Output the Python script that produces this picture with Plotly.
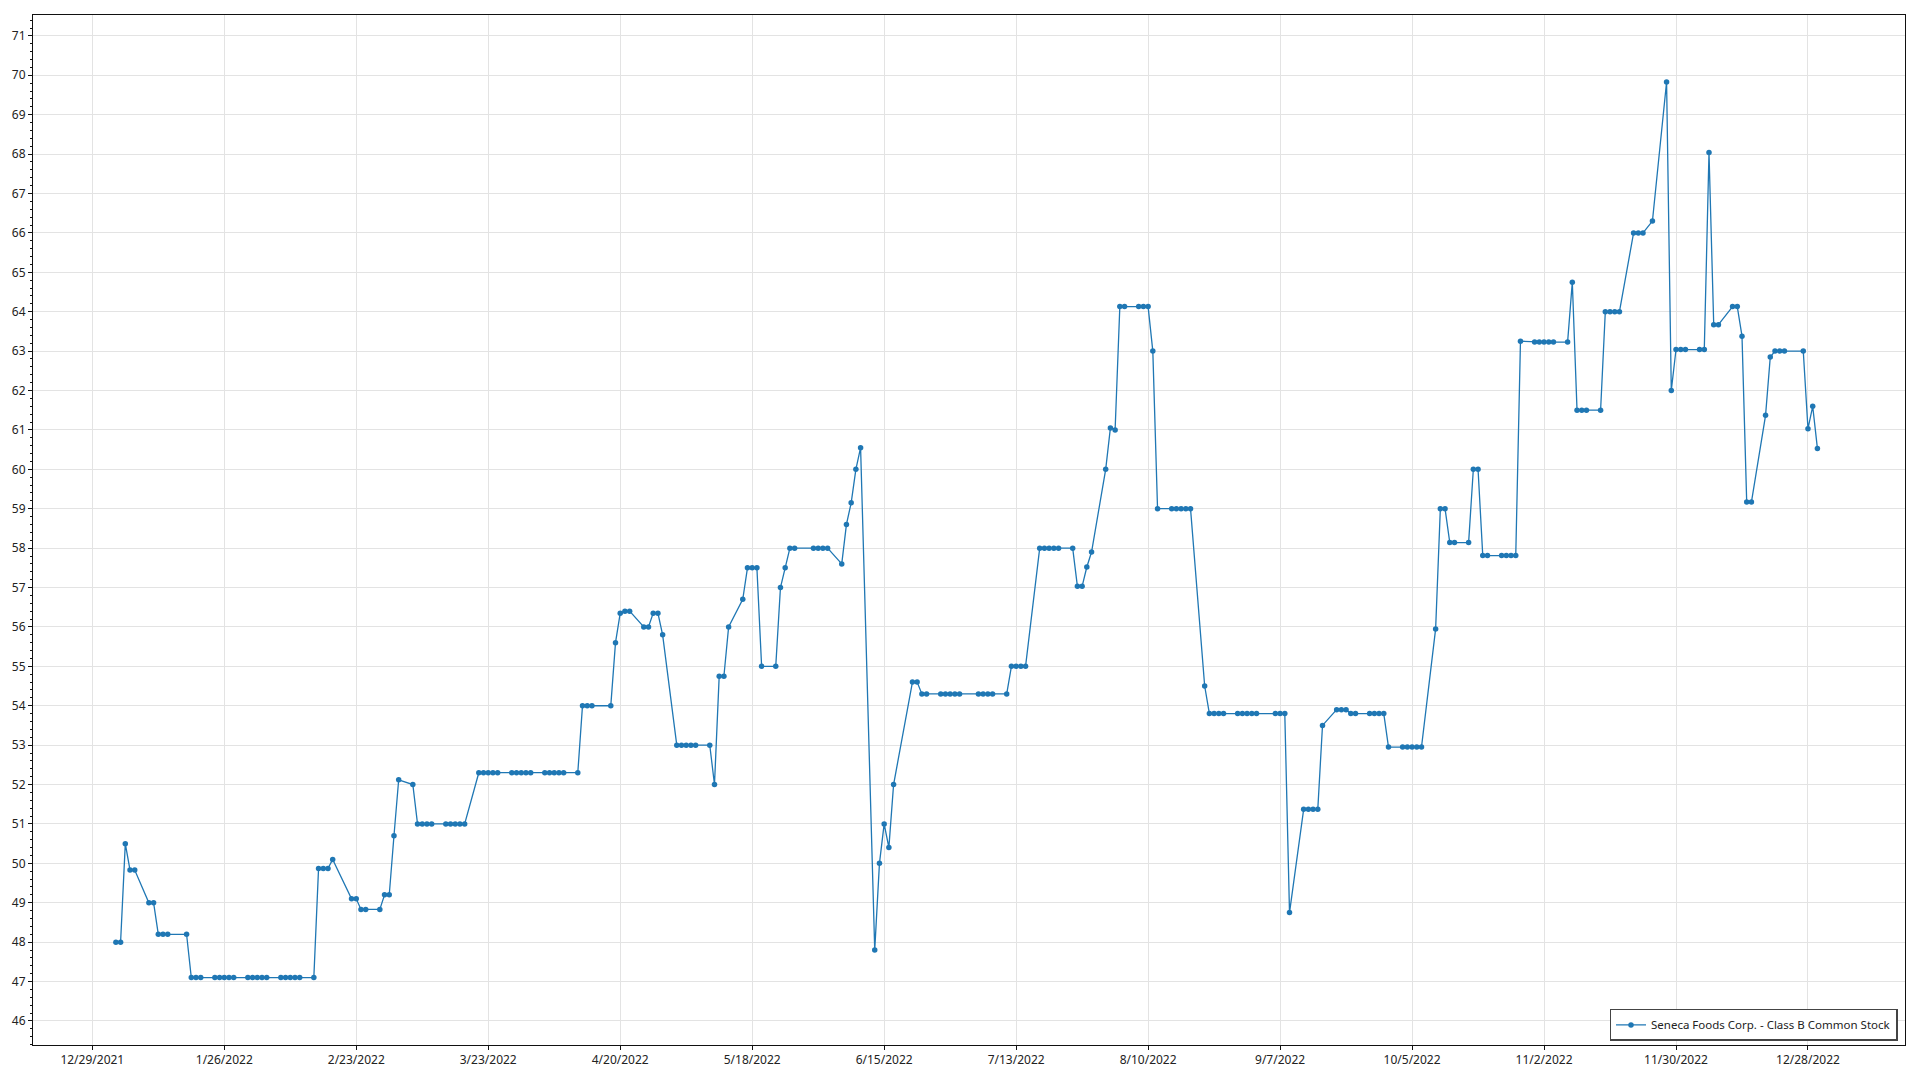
import pandas as pd
import plotly.graph_objects as go

series_name = "Seneca Foods Corp. - Class B Common Stock"

holidays_2022 = ["2022-01-17", "2022-02-21", "2022-04-15", "2022-05-30", "2022-06-20",
                 "2022-07-04", "2022-09-05", "2022-11-24", "2022-12-26"]

jan = [48.0, 48.0, 50.5, 49.83, 49.83, 49.0, 49.0, 48.2, 48.2, 48.2,
       48.2, 47.1, 47.1, 47.1, 47.1, 47.1, 47.1, 47.1, 47.1, 47.1]
feb = [47.1, 47.1, 47.1, 47.1, 47.1, 47.1, 47.1, 47.1, 47.1, 47.1,
       49.87, 49.87, 49.87, 50.1, 49.1, 49.1, 48.83, 48.83, 48.83]
mar = [49.2, 49.2, 50.7, 52.12, 52.0, 51.0, 51.0, 51.0, 51.0, 51.0,
       51.0, 51.0, 51.0, 51.0, 52.3, 52.3, 52.3, 52.3, 52.3, 52.3,
       52.3, 52.3, 52.3]
apr = [52.3, 52.3, 52.3, 52.3, 52.3, 52.3, 52.3, 54.0, 54.0, 54.0,
       54.0, 55.6, 56.35, 56.4, 56.4, 56.0, 56.0, 56.35, 56.35, 55.8]
may = [53.0, 53.0, 53.0, 53.0, 53.0, 53.0, 52.0, 54.75, 54.75, 56.0,
       56.7, 57.5, 57.5, 57.5, 55.0, 55.0, 57.0, 57.5, 58.0, 58.0,
       58.0]
jun = [58.0, 58.0, 58.0, 57.6, 58.6, 59.15, 60.0, 60.55, 47.8, 50.0,
       51.0, 50.4, 52.0, 54.6, 54.6, 54.3, 54.3, 54.3, 54.3, 54.3,
       54.3]
jul = [54.3, 54.3, 54.3, 54.3, 54.3, 54.3, 55.0, 55.0, 55.0, 55.0,
       58.0, 58.0, 58.0, 58.0, 58.0, 58.0, 57.03, 57.03, 57.52, 57.9]
aug = [60.0, 61.05, 61.0, 64.13, 64.13, 64.13, 64.13, 64.13, 63.0, 59.0,
       59.0, 59.0, 59.0, 59.0, 59.0, 54.5, 53.8, 53.8, 53.8, 53.8,
       53.8, 53.8, 53.8]
sep = [53.8, 53.8, 53.8, 53.8, 53.8, 48.75, 51.37, 51.37, 51.37, 51.37,
       53.5, 53.9, 53.9, 53.9, 53.8, 53.8, 53.8, 53.8, 53.8, 53.8,
       52.95]
oct_ = [52.95, 52.95, 52.95, 52.95, 52.95, 55.95, 59.0, 59.0, 58.14, 58.14,
        58.14, 60.0, 60.0, 57.81, 57.81, 57.81, 57.81, 57.81, 57.81, 63.25,
        63.23]
nov = [63.23, 63.23, 63.23, 63.23, 63.23, 64.75, 61.5, 61.5, 61.5, 61.5,
       64.0, 64.0, 64.0, 64.0, 66.0, 66.0, 66.0, 66.3, 69.83, 62.0,
       63.04]
dec = [63.04, 63.04, 63.04, 63.04, 68.04, 63.67, 63.67, 64.13, 64.13, 63.38,
       59.17, 59.17, 61.37, 62.85, 63.0, 63.0, 63.0, 63.0, 61.03, 61.6,
       60.53]

values = jan + feb + mar + apr + may + jun + jul + aug + sep + oct_ + nov + dec
dates = pd.bdate_range("2022-01-03", "2022-12-30", freq="C", holidays=holidays_2022)

FONT = "Noto Sans"
fig = go.Figure()
fig.add_trace(go.Scatter(
    x=dates, y=values, mode="lines+markers", name=series_name,
    line=dict(color="#1f77b4", width=1.3),
    marker=dict(color="#1f77b4", size=5.5),
    showlegend=True,
))

fig.update_layout(
    width=1920, height=1080,
    margin=dict(l=32, r=15, t=15, b=28),
    paper_bgcolor="white", plot_bgcolor="white",
    font=dict(family=FONT, size=12, color="#222"),
    showlegend=True,
    legend=dict(x=0.996, xanchor="right", y=0.004, yanchor="bottom",
                bgcolor="white", bordercolor="#444", borderwidth=1.5,
                itemwidth=30, tracegroupgap=0,
                font=dict(family=FONT, size=11.5, color="#222")),
)
fig.update_xaxes(
    range=["2021-12-16 10:00", "2023-01-17 14:00"],
    tick0="2021-12-29", dtick=28 * 86400000, tickformat="%-m/%-d/%Y",
    showgrid=True, gridcolor="#e3e3e3", gridwidth=1,
    showline=True, linecolor="#111", linewidth=1, mirror=True,
    ticks="outside", ticklen=4, tickcolor="#111", zeroline=False,
)
fig.update_yaxes(
    range=[45.39, 71.53], tick0=46, dtick=1,
    showgrid=True, gridcolor="#e3e3e3", gridwidth=1,
    showline=True, linecolor="#111", linewidth=1, mirror=True,
    ticks="outside", ticklen=4, tickcolor="#111", zeroline=False,
    minor=dict(ticks="outside", ticklen=2, dtick=0.2, tickcolor="#111", showgrid=False),
)

page_fix = ("document.documentElement.style.overflow='hidden';"
            "document.body.style.margin='0';document.body.style.overflow='hidden';")
fig.write_html("out.html", post_script=page_fix, config={"displayModeBar": False})
